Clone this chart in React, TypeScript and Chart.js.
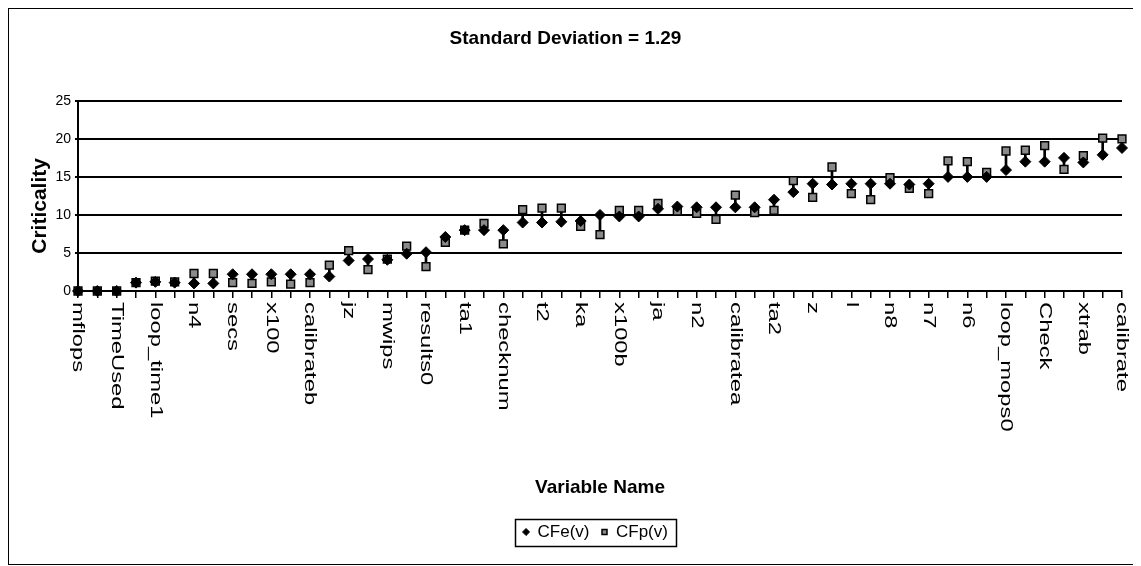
import { useEffect, useRef } from "react";
import { Chart, registerables } from "chart.js";

Chart.register(...registerables);

// Every other category name is printed on the axis (even indices).
const xTickLabels = [
  "mflops", "TimeUsed", "loop_time1", "n4", "secs", "x100", "calibrateb",
  "jz", "mwips", "results0", "ta1", "checknum", "t2", "ka", "x100b", "ja",
  "n2", "calibratea", "ta2", "z", "l", "n8", "n7", "n6", "loop_mops0",
  "Check", "xtrab", "calibrate",
];

const categories: string[] = [];
for (let i = 0; i < 55; i++) categories.push(i % 2 === 0 ? xTickLabels[i / 2] : "");

const cfe = [
  0, 0, 0, 1.1, 1.2, 1.1, 1.0, 1.0, 2.2, 2.2,
  2.2, 2.2, 2.2, 1.9, 4.0, 4.2, 4.1, 4.9, 5.1, 7.1,
  8.0, 8.0, 8.0, 9.0, 9.0, 9.1, 9.2, 10.0, 9.8, 9.8,
  10.8, 11.1, 11.0, 11.0, 11.0, 11.0, 12.0, 13.0, 14.1, 14.0,
  14.1, 14.1, 14.1, 14.0, 14.1, 15.0, 15.0, 15.0, 15.9, 17.0,
  17.0, 17.5, 16.9, 17.9, 18.8,
];

const cfp = [
  0, 0, 0, 1.1, 1.3, 1.2, 2.3, 2.3, 1.1, 1.0,
  1.2, 0.9, 1.1, 3.4, 5.3, 2.8, 4.2, 5.9, 3.2, 6.4,
  8.0, 8.9, 6.2, 10.7, 10.9, 10.9, 8.5, 7.4, 10.6, 10.6,
  11.5, 10.5, 10.2, 9.4, 12.6, 10.3, 10.6, 14.5, 12.3, 16.3,
  12.8, 12.0, 14.9, 13.5, 12.8, 17.1, 17.0, 15.6, 18.4, 18.5,
  19.1, 16.0, 17.8, 20.1, 20.0,
];

const yTicks = [0, 5, 10, 15, 20, 25];

const SANS = "'Liberation Sans', Arial, Helvetica, sans-serif";

const overlayPlugin = {
  id: "overlay",
  afterLayout(chart: any) {
    const lg = chart.legend;
    if (lg) {
      lg.left += 30;
      lg.right += 30;
    }
  },
  afterDraw(chart: any) {
    const { ctx, chartArea } = chart;
    const xs = chart.scales.x;
    ctx.save();
    ctx.fillStyle = "#000";
    ctx.font = `17px ${SANS}`;
    ctx.textAlign = "left";
    ctx.textBaseline = "middle";
    categories.forEach((lab, i) => {
      if (!lab) return;
      const x = xs.getPixelForValue(i);
      ctx.save();
      ctx.translate(x, chartArea.bottom + 11);
      ctx.rotate(Math.PI / 2);
      ctx.scale(1.4, 1);
      ctx.fillText(lab, 0, 0);
      ctx.restore();
    });
    // y-axis title
    ctx.save();
    ctx.font = `bold 21px ${SANS}`;
    ctx.textAlign = "center";
    ctx.textBaseline = "middle";
    ctx.translate(31, (chartArea.top + chartArea.bottom) / 2 + 10);
    ctx.rotate(-Math.PI / 2);
    ctx.fillText("Criticality", 0, 0);
    ctx.restore();
    // legend frame
    const lg = chart.legend;
    if (lg && lg.legendHitBoxes && lg.legendHitBoxes.length) {
      let l = Infinity, t = Infinity, r = -Infinity, b = -Infinity;
      lg.legendHitBoxes.forEach((h: any) => {
        l = Math.min(l, h.left);
        t = Math.min(t, h.top);
        r = Math.max(r, h.left + h.width);
        b = Math.max(b, h.top + h.height);
      });
      ctx.strokeStyle = "#000";
      ctx.lineWidth = 1.5;
      ctx.strokeRect(Math.round(l - 8) + 0.5, Math.round(t - 5) + 0.5, Math.round(r - l + 16), Math.round(b - t + 10));
    }
    ctx.restore();
  },
};

export default function App() {
  const ref = useRef<HTMLCanvasElement | null>(null);

  useEffect(() => {
    if (!ref.current) return;
    const chart = new Chart(ref.current, {
      type: "line",
      data: {
        labels: categories,
        datasets: [
          {
            type: "bar",
            label: "range",
            data: cfe.map((v, i) => [v, cfp[i]]) as any,
            backgroundColor: "#000",
            barThickness: 2,
            order: 3,
          } as any,
          {
            label: "CFp(v)",
            data: cfp,
            showLine: false,
            pointStyle: "rect",
            pointRadius: 5.5,
            pointBackgroundColor: "#8a8a8a",
            pointBorderColor: "#000",
            pointBorderWidth: 1.5,
            backgroundColor: "#8a8a8a",
            borderColor: "#000",
            borderWidth: 1.5,
            clip: false,
            order: 2,
          } as any,
          {
            label: "CFe(v)",
            data: cfe,
            showLine: false,
            pointStyle: "rectRot",
            pointRadius: 5.5,
            pointBackgroundColor: "#000",
            pointBorderColor: "#000",
            pointBorderWidth: 1,
            backgroundColor: "#000",
            borderColor: "#000",
            borderWidth: 1,
            clip: false,
            order: 1,
          } as any,
        ],
      },
      options: {
        responsive: true,
        maintainAspectRatio: false,
        animation: false,
        events: [],
        layout: { padding: { left: 0, right: 12, top: 0, bottom: 13.5 } },
        plugins: {
          title: {
            display: true,
            text: "Standard Deviation = 1.29",
            color: "#000",
            font: { family: SANS, size: 19, weight: "bold" },
            padding: { top: 18, bottom: 51 },
          },
          legend: {
            display: true,
            position: "bottom",
            labels: {
              color: "#000",
              font: { family: SANS, size: 17 },
              usePointStyle: true,
              boxWidth: 6,
              boxHeight: 5,
              padding: 12,
              filter: (item: any) => item.datasetIndex !== 0,
            },
          },
          tooltip: { enabled: false },
        },
        scales: {
          x: {
            type: "category",
            offset: false,
            ticks: { display: false, autoSkip: false },
            grid: {
              offset: false,
              drawOnChartArea: false,
              drawTicks: true,
              tickLength: 7,
              color: "#000",
              lineWidth: 1.5,
            },
            border: { display: true, color: "#000", width: 2 },
            title: {
              display: true,
              text: "Variable Name",
              color: "#000",
              font: { family: SANS, size: 19, weight: "bold" },
              padding: { top: 0, bottom: 12 },
            },
            afterFit: (s: any) => {
              s.height = 220.5;
            },
          },
          y: {
            min: 0,
            max: 25,
            afterBuildTicks: (s: any) => {
              s.ticks = yTicks.map((v) => ({ value: v }));
            },
            ticks: {
              color: "#000",
              font: { family: SANS, size: 14 },
              padding: 4,
            },
            grid: {
              color: "#000",
              lineWidth: 2,
              drawTicks: true,
              tickLength: 3,
            },
            border: { display: true, color: "#000", width: 2 },
            title: { display: false },
            afterFit: (s: any) => {
              s.width = 69;
            },
          },
        },
      },
      plugins: [overlayPlugin],
    });
    return () => chart.destroy();
  }, []);

  return (
    <div style={{ width: 1125, height: 555, border: "1px solid #000", position: "relative" }}>
      <canvas ref={ref} />
    </div>
  );
}
